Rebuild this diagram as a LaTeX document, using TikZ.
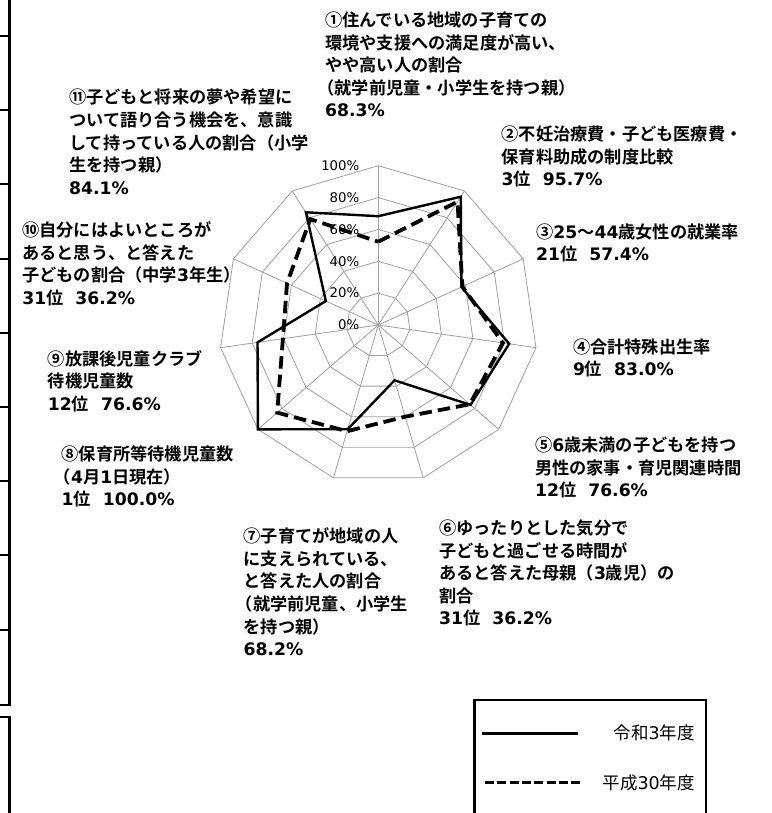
\documentclass[tikz,border=0pt]{standalone}
\usepackage{fontspec}
\setmainfont{Noto Sans CJK JP}[BoldFont={Noto Sans CJK JP Bold}]
\newfontfamily\numfont{DejaVu Sans}
\usetikzlibrary{calc}
\newcommand\nm[1]{{\numfont #1}}
\newcommand\gap{\hspace{0.7em}}
\newcommand\lp{\kern-0.45em（}
\begin{document}
\begin{tikzpicture}[x=1pt,y=-1pt,
  grid/.style={draw=black!37,line width=0.8pt},
  sol/.style={line width=2.4pt,line join=miter},
  dsh/.style={line width=3.8pt,dash pattern=on 12.5pt off 6pt},
  lbl/.style={anchor=north west,inner sep=0pt,align=left,font=\bfseries\fontsize{17.2}{22.6}\selectfont},
  tick/.style={anchor=east,inner sep=0pt,font=\numfont\fontsize{13.3}{13.3}\selectfont},
  leg/.style={anchor=east,inner sep=0pt,font=\fontsize{17.5}{18}\selectfont},
  frame/.style={line width=2.6pt},
  stub/.style={line width=2pt}]
\useasboundingbox (0,0) rectangle (771,813);
\fill[white] (0,0) rectangle (771,813);

% left table border
\coordinate (tb0) at (0,705);
\coordinate (tb1) at (9.5,705);
\coordinate (tb2) at (9.5,-3);
\draw[frame] (tb0) -- (tb1) -- (tb2);
\foreach \yy [count=\i] in {36,110.2,184.4,258.6,332.8,407,481.2,555.4,629.6} {
  \coordinate (sa\i) at (0,\yy);
  \coordinate (sb\i) at (9.5,\yy);
  \draw[stub] (sa\i) -- (sb\i);
}
\coordinate (tc0) at (0,717);
\coordinate (tc1) at (9.5,717);
\coordinate (tc2) at (9.5,820);
\draw[frame] (tc0) -- (tc1) -- (tc2);

% radar grid
\coordinate (O) at (378.3,325);
\def\R{159.3}
\foreach \f in {0.2,0.4,0.6,0.8,1} {
  \draw[grid] ($(O)+(0,{-\f*\R})$) \foreach \k in {1,...,10} { -- ($(O)+({\f*\R*sin(\k*360/11)},{-\f*\R*cos(\k*360/11)})$) } -- cycle;
}
\foreach \k in {0,...,10} {
  \coordinate (v\k) at ($(O)+({\R*sin(\k*360/11)},{-\R*cos(\k*360/11)})$);
  \draw[grid] (O) -- (v\k);
}
\foreach \p/\t in {0/0,1/20,2/40,3/60,4/80,5/100}
  \node[tick] (t\p) at (359.5,{325-\p*31.86}) {\t\%};

% data
\foreach \v [count=\k from 0] in {68.3,95.7,57.4,83.0,76.6,36.2,68.2,100,76.6,36.2,84.1}
  \coordinate (s\k) at ($(O)+({\v*1.593*sin(\k*360/11)},{-\v*1.593*cos(\k*360/11)})$);
\foreach \v [count=\k from 0] in {52.3,92,58,79,76,60,69.5,84,60.5,63,79}
  \coordinate (d\k) at ($(O)+({\v*1.593*sin(\k*360/11)},{-\v*1.593*cos(\k*360/11)})$);
\draw[sol] (s0) -- (s1) -- (s2) -- (s3) -- (s4) -- (s5) -- (s6) -- (s7) -- (s8) -- (s9) -- (s10) -- cycle;
\draw[dsh] (d0) -- (d1) -- (d2) -- (d3) -- (d4) -- (d5) -- (d6) -- (d7) -- (d8) -- (d9) -- (d10) -- cycle;

% category labels
\node[lbl] (c1) at (325,11.7) {\rule{0pt}{13pt}①住んでいる地域の子育ての\\環境や支援への満足度が高い、\\やや高い人の割合\\\lp 就学前児童・小学生を持つ親）\\\nm{68.3\%}};
\node[lbl] (c2) at (501.5,125.7) {\rule{0pt}{13pt}②不妊治療費・子ども医療費・\\保育料助成の制度比較\\\nm{3}位\gap\nm{95.7\%}};
\node[lbl] (c3) at (536,223.2) {\rule{0pt}{13pt}③\nm{25}～\nm{44}歳女性の就業率\\\nm{21}位\gap\nm{57.4\%}};
\node[lbl] (c4) at (572.8,338.2) {\rule{0pt}{13pt}④合計特殊出生率\\\nm{9}位\gap\nm{83.0\%}};
\node[lbl] (c5) at (534.9,436.7) {\rule{0pt}{13pt}⑤\nm{6}歳未満の子どもを持つ\\男性の家事・育児関連時間\\\nm{12}位\gap\nm{76.6\%}};
\node[lbl] (c6) at (439,519.7) {\rule{0pt}{13pt}⑥ゆったりとした気分で\\子どもと過ごせる時間が\\あると答えた母親（\nm{3}歳児）の\\割合\\\nm{31}位\gap\nm{36.2\%}};
\node[lbl] (c7) at (243.4,527.5) {\rule{0pt}{13pt}⑦子育てが地域の人\\に支えられている、\\と答えた人の割合\\\lp 就学前児童、小学生\\を持つ親）\\\nm{68.2\%}};
\node[lbl] (c8) at (61.5,445.5) {\rule{0pt}{13pt}⑧保育所等待機児童数\\\lp\nm{4}月\nm{1}日現在）\\\nm{1}位\gap\nm{100.0\%}};
\node[lbl] (c9) at (47.7,350.2) {\rule{0pt}{13pt}⑨放課後児童クラブ\\待機児童数\\\nm{12}位\gap\nm{76.6\%}};
\node[lbl] (c10) at (22.1,221.6) {\rule{0pt}{13pt}⑩自分にはよいところが\\あると思う、と答えた\\子どもの割合（中学\nm{3}年生）\\\nm{31}位\gap\nm{36.2\%}};
\node[lbl] (c11) at (69,89) {\rule{0pt}{13pt}⑪子どもと将来の夢や希望に\\ついて語り合う機会を、意識\\して持っている人の割合（小学\\生を持つ親）\\\nm{84.1\%}};

% legend
\coordinate (lg0) at (474.3,830);
\coordinate (lg1) at (474.3,700);
\coordinate (lg2) at (705.7,700);
\coordinate (lg3) at (705.7,830);
\draw[line width=2.4pt] (lg0) -- (lg1) -- (lg2) -- (lg3);
\coordinate (la) at (481.7,733.3);
\coordinate (lb) at (578.3,733.3);
\draw[line width=3.2pt] (la) -- (lb);
\coordinate (lc) at (485,782.7);
\coordinate (ld) at (580,782.7);
\draw[line width=3.3pt,dash pattern=on 9pt off 3.3pt] (lc) -- (ld);
\node[leg] (leg1) at (695,733.3) {令和\nm{3}年度};
\node[leg] (leg2) at (695,782.7) {平成\nm{30}年度};
\end{tikzpicture}
\end{document}
